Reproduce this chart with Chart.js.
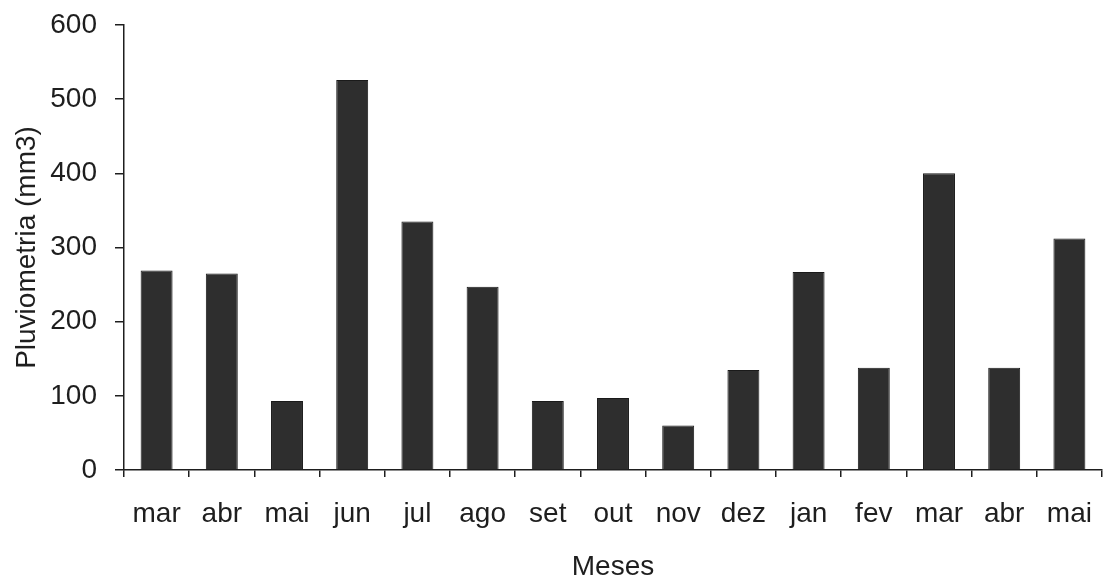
<!DOCTYPE html>
<html>
<head>
<meta charset="utf-8">
<script src="https://cdn.jsdelivr.net/npm/chart.js@4/dist/chart.umd.min.js"></script>
<style>
  html, body { margin: 0; padding: 0; background: #ffffff; }
  #wrap { width: 1103px; height: 584px; }
</style>
</head>
<body>
<div id="wrap"><canvas id="c" width="1103" height="584"></canvas></div>
<script>
// Monthly rainfall, March through May of the following year
const meses = ['mar', 'abr', 'mai', 'jun', 'jul', 'ago', 'set', 'out', 'nov', 'dez', 'jan', 'fev', 'mar', 'abr', 'mai'];
const pluviometria = [269, 265, 93, 526, 335, 247, 93, 97, 60, 135, 267, 138, 400, 138, 312];
const yTicks = [0, 100, 200, 300, 400, 500, 600];

const ink = '#1e1e1e';
const font = { family: '"Liberation Sans", Arial, Helvetica, sans-serif', size: 28 };

new Chart(document.getElementById('c'), {
  type: 'bar',
  data: {
    labels: meses,
    datasets: [{
      data: pluviometria,
      backgroundColor: '#2e2e2e',
      borderColor: '#1a1a1a',
      borderWidth: 1,
      barPercentage: 0.49,
      categoryPercentage: 1.0
    }]
  },
  options: {
    responsive: false,
    animation: false,
    layout: { padding: { left: 0, top: 25, right: 1, bottom: 0 } },
    plugins: { legend: { display: false }, tooltip: { enabled: false } },
    scales: {
      x: {
        offset: true,
        grid: { display: true, drawOnChartArea: false, drawTicks: true, tickLength: 7, color: ink, lineWidth: 1.5, offset: true },
        border: { display: true, color: ink, width: 1.5 },
        ticks: { color: ink, font: font, padding: 20, maxRotation: 0, autoSkip: false },
        title: { display: true, text: 'Meses', color: ink, font: font, padding: { top: 0, bottom: 0 } },
        afterFit: (s) => { s.height = 114; s.paddingLeft = 0; s.paddingRight = 0; }
      },
      y: {
        min: yTicks[0],
        max: yTicks[yTicks.length - 1],
        afterBuildTicks: (s) => { s.ticks = yTicks.map(v => ({ value: v })); },
        grid: { display: true, drawOnChartArea: false, drawTicks: true, tickLength: 9, color: ink, lineWidth: 1.5 },
        border: { display: true, color: ink, width: 1.5 },
        ticks: { color: ink, font: font, padding: 18 },
        title: { display: true, text: 'Pluviometria (mm3)', color: ink, font: font, padding: { top: 10, bottom: 0 } },
        afterFit: (s) => { s.width = 124; s.paddingTop = 0; s.paddingBottom = 0; }
      }
    }
  }
});
</script>
</body>
</html>
